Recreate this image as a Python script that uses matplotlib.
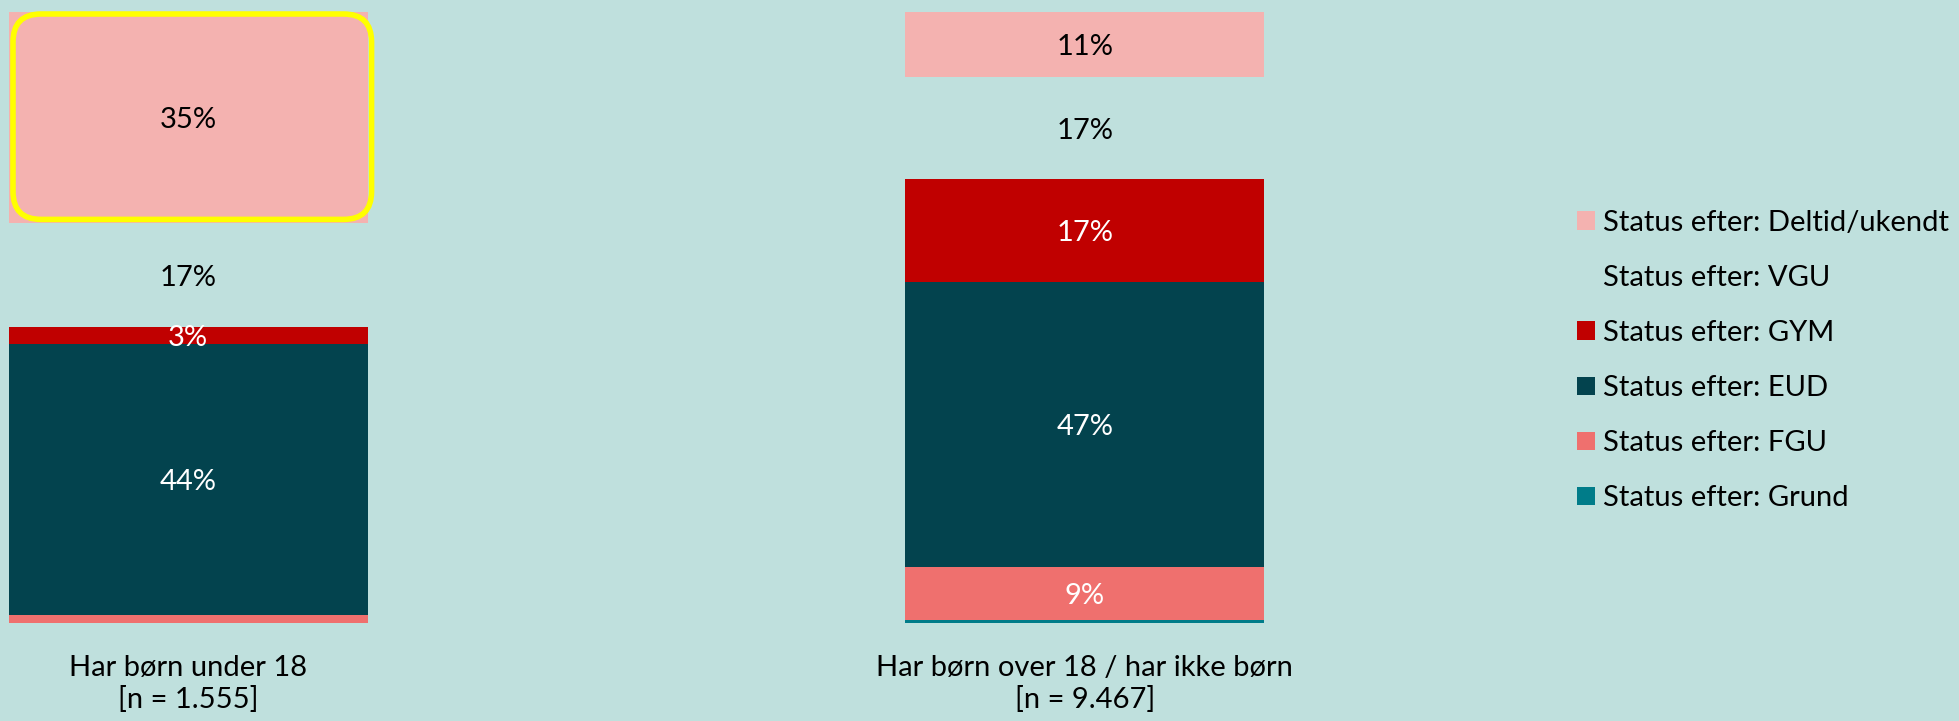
import numpy as np
import matplotlib
matplotlib.use("Agg")
from matplotlib import pyplot as plt
from matplotlib.patches import FancyBboxPatch
from matplotlib.transforms import IdentityTransform

groups = ["Har børn under 18\n[n = 1.555]", "Har børn over 18 / har ikke børn\n[n = 9.467]"]
series = ["Status efter: Grund", "Status efter: FGU", "Status efter: EUD",
          "Status efter: GYM", "Status efter: VGU", "Status efter: Deltid/ukendt"]
grund = [0.0, 0.5]
fgu = [1.3, 8.6]
eud = [44.4, 46.7]
gym = [2.8, 16.8]
vgu = [16.9, 16.8]
deltid = [34.6, 10.6]

colors = ["#007C89", "#EF706E", "#03434E", "#C00000", "none", "#F4B2B0"]
text_colors = ["white", "white", "white", "white", "black", "black"]
bg = "#BFE0DD"

plt.rcParams['font.family'] = ['Lato', 'DejaVu Sans']
fs = 21

fig = plt.figure(figsize=(19.59, 7.21), dpi=100, facecolor=bg)
ax = fig.add_axes([9/1959, 98/721, 1255/1959, 611/721])
ax.set_facecolor(bg)

x = np.arange(len(groups))
bottom = np.zeros(len(groups))
containers = []
for name, vals, c, tc in zip(series, [grund, fgu, eud, gym, vgu, deltid], colors, text_colors):
    vals = np.array(vals)
    bars = ax.bar(x, vals, 0.4, bottom=bottom, color=c, label=name, linewidth=0)
    labels = [f"{v:.0f}%" if v >= 2.5 else "" for v in vals]
    texts = ax.bar_label(bars, labels=labels, label_type="center", color=tc, fontsize=fs)
    for t in texts:
        t.set_va("center_baseline")
    containers.append(bars)
    bottom += vals

ax.set_xlim(-0.2, 1.2)
ax.set_ylim(0, 100)
ax.set_yticks([])
ax.set_xticks(x)
ax.set_xticklabels(groups, fontsize=fs, linespacing=1.25)
ax.tick_params(axis="x", length=0, pad=23)
for s in ax.spines.values():
    s.set_visible(False)

# legend, top to bottom from Deltid
handles, labs = ax.get_legend_handles_labels()
fig.legend(handles[::-1], labs[::-1], loc="center left", bbox_to_anchor=(1577/1959, 0.5),
           frameon=False, fontsize=fs, handlelength=0.6, handleheight=0.6,
           handletextpad=0.3, labelspacing=1.0, borderpad=0, borderaxespad=0)

# yellow highlight around the first Deltid segment
fig.canvas.draw()
rect = containers[-1][0]
bb = rect.get_window_extent()
box = FancyBboxPatch((bb.x0 + 4, bb.y0 + 4), bb.width, bb.height - 6,
                     boxstyle="round,pad=0,rounding_size=28", transform=IdentityTransform(),
                     facecolor="none", edgecolor="#FFFF00", linewidth=4)
fig.add_artist(box)

fig.savefig("out.png", dpi=100, facecolor=bg)
